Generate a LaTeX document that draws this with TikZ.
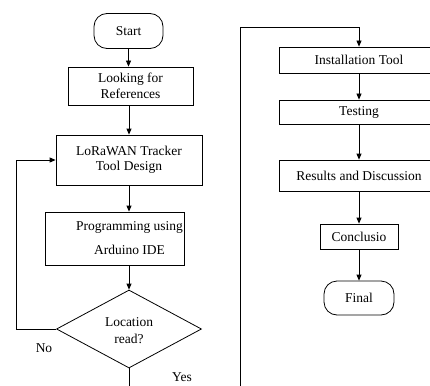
\documentclass[tikz,border=0pt]{standalone}
\usepackage{fontspec}
\setmainfont{Liberation Serif}
\usetikzlibrary{shapes.geometric,arrows.meta}
\begin{document}
\begin{tikzpicture}[x=1pt,y=-1pt,
  every node/.style={font=\fontsize{13.5}{16}\selectfont, inner sep=0pt},
  box/.style={draw, rectangle, line width=0.8pt},
  term/.style={draw, rectangle, rounded corners=13pt, line width=0.8pt},
  dec/.style={draw, diamond, line width=0.8pt, aspect=1.86},
  conn/.style={line width=0.8pt},
  arr/.style={conn, -{Triangle[length=6pt,width=5pt]}}]
\useasboundingbox (0,0) rectangle (430,385);
\clip (0,0) rectangle (430,385);
% left column
\node[term, minimum width=69, minimum height=35] (start) at (128.5,31) {Start};
\node[box, minimum width=125, minimum height=38, align=center] (look) at (130.5,86) {Looking for\\References};
\node[box, minimum width=146, minimum height=50, align=center, font=\fontsize{13.5}{15}\selectfont] (lora) at (129,160) {LoRaWAN Tracker\\Tool Design};
\node[box, minimum width=139, minimum height=53] (prog) at (114.5,238.5) {};
\node[align=center, font=\fontsize{13.5}{24}\selectfont] (progtext) at (129.5,238.5) {Programming using\\Arduino IDE};
\node[dec, minimum width=145, minimum height=78] (loc) at (129,329) {};
\node[align=center, font=\fontsize{13.5}{17}\selectfont] (loctext) at (129,331) {Location\\read?};
\node (yes) at (182,377) {Yes};
\node (no) at (44,348) {No};
\coordinate (bottomL) at (129,390);
\coordinate (loopc) at (16,329);
% right column
\coordinate (bottomR) at (240,390);
\coordinate (topR) at (240,27);
\node[box, minimum width=160, minimum height=26] (inst) at (359,60) {Installation Tool};
\node[box, minimum width=160, minimum height=24] (test) at (359,112) {Testing};
\node[box, minimum width=160, minimum height=31] (res) at (359,175.5) {Results and Discussion};
\node[box, minimum width=78, minimum height=25] (conc) at (359,236.5) {Conclusio};
\node[term, minimum width=70, minimum height=34] (final) at (359,298) {Final};
% connectors
\draw[arr] (start) -- (start |- look.north);
\draw[arr] (look.south -| lora.north) -- (lora.north);
\draw[arr] (lora.south) -- (lora.south |- prog.north);
\draw[arr] (lora.south |- prog.south) -- (loc.north);
\draw[conn] (loc.south) -- (bottomL);
\draw[arr] (loc.west) -- (loopc) |- (lora.west);
\draw[arr] (bottomR) -- (topR) -| (inst.north);
\draw[arr] (inst.south) -- (test.north);
\draw[arr] (test.south) -- (res.north);
\draw[arr] (res.south) -- (conc.north);
\draw[arr] (conc.south) -- (final.north);
\end{tikzpicture}
\end{document}
